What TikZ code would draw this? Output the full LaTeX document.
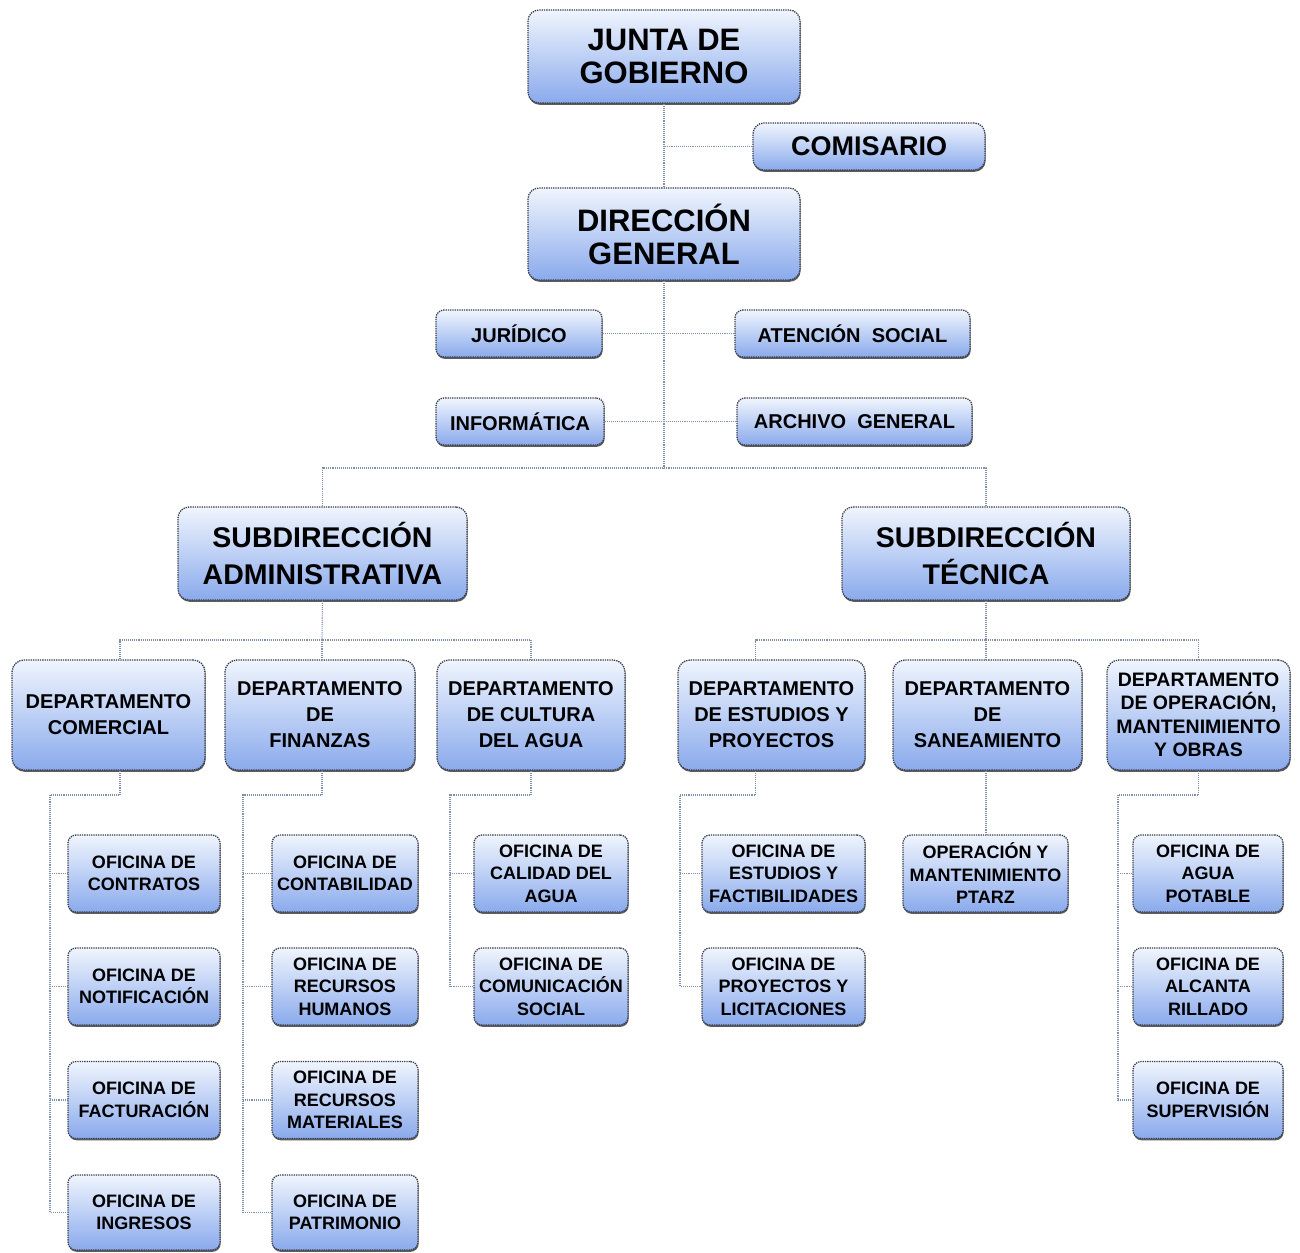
\documentclass[tikz,border=0pt]{standalone}
\usepackage{fontspec}
\setmainfont{Liberation Sans}
\usetikzlibrary{shadows,calc}
\definecolor{boxtop}{RGB}{240,245,253}
\definecolor{boxbot}{RGB}{138,170,236}
\definecolor{boxline}{RGB}{55,60,75}
\definecolor{connc}{RGB}{130,145,170}
\tikzset{
  orgbox/.style 2 args={draw=boxline, densely dotted, line width=1.3pt,
    top color=boxtop, bottom color=boxbot, align=center, inner sep=0pt,
    minimum width=#1pt, minimum height=#2pt,
    drop shadow={shadow xshift=0.6pt, shadow yshift=-1.8pt, fill=black!75, opacity=0.85}},
  bigbox/.style 2 args={orgbox={#1}{#2}, rounded corners=11pt,
    font=\bfseries\fontsize{31}{33}\selectfont},
  midbox/.style 2 args={orgbox={#1}{#2}, rounded corners=8pt,
    font=\bfseries\fontsize{20}{22}\selectfont},
  deptbox/.style 2 args={orgbox={#1}{#2}, rounded corners=12pt,
    font=\bfseries\fontsize{20}{26}\selectfont},
  offbox/.style 2 args={orgbox={#1}{#2}, rounded corners=8pt,
    font=\bfseries\fontsize{18}{22.5}\selectfont},
  conn/.style={draw=connc, densely dotted, line width=1.1pt},
}
\begin{document}
\begin{tikzpicture}[x=1pt,y=-1pt]
\useasboundingbox[fill=white] (0,0) rectangle (1300,1252);

% top level
\node[bigbox={272}{93}] (junta) at (664,56.5) {JUNTA DE\\GOBIERNO};
\node[bigbox={232}{47}, font=\bfseries\fontsize{27}{28}\selectfont] (comisario) at (869,146.5) {COMISARIO};
\node[bigbox={272}{92}] (direccion) at (664,234) {DIRECCIÓN\\GENERAL};

\node[midbox={166}{47}] (juridico) at (519,333.5) {JURÍDICO};
\node[midbox={235}{47}] (atencion) at (852.5,333.5) {ATENCIÓN\ \ SOCIAL};
\node[midbox={168}{47}] (informatica) at (520,421.5) {INFORMÁTICA};
\node[midbox={235}{47}] (archivo) at (854.5,421.5) {ARCHIVO\ \ GENERAL};

\node[bigbox={289}{93}, font=\bfseries\fontsize{28.5}{37}\selectfont] (subadm) at (322.5,553.5) {SUBDIRECCIÓN\\ADMINISTRATIVA};
\node[bigbox={288}{93}, font=\bfseries\fontsize{28.5}{37}\selectfont] (subtec) at (986,553.5) {SUBDIRECCIÓN\\TÉCNICA};

% departments
\node[deptbox={193}{110}] (comercial) at (108.5,715) {DEPARTAMENTO\\COMERCIAL};
\node[deptbox={190}{110}] (finanzas) at (320,715) {DEPARTAMENTO\\DE\\FINANZAS};
\node[deptbox={188}{110}] (cultura) at (531,715) {DEPARTAMENTO\\DE CULTURA\\DEL AGUA};
\node[deptbox={187}{110}] (estudios) at (771.5,715) {DEPARTAMENTO\\DE ESTUDIOS Y\\PROYECTOS};
\node[deptbox={189}{110}] (saneam) at (987.5,715) {DEPARTAMENTO\\DE\\SANEAMIENTO};
\node[deptbox={183}{110}, font=\bfseries\fontsize{19.5}{23.5}\selectfont] (operacion) at (1198.5,715) {DEPARTAMENTO\\DE OPERACIÓN,\\MANTENIMIENTO\\Y OBRAS};

% offices
\node[offbox={152}{77}] (contratos) at (144,873.5) {OFICINA DE\\CONTRATOS};
\node[offbox={152}{77}] (notif) at (144,986.5) {OFICINA DE\\NOTIFICACIÓN};
\node[offbox={152}{77}] (factur) at (144,1100) {OFICINA DE\\FACTURACIÓN};
\node[offbox={152}{75}] (ingresos) at (144,1212.5) {OFICINA DE\\INGRESOS};

\node[offbox={146}{77}] (contab) at (345,873.5) {OFICINA DE\\CONTABILIDAD};
\node[offbox={146}{77}] (rh) at (345,986.5) {OFICINA DE\\RECURSOS\\HUMANOS};
\node[offbox={146}{77}] (rm) at (345,1100) {OFICINA DE\\RECURSOS\\MATERIALES};
\node[offbox={146}{75}] (patrim) at (345,1212.5) {OFICINA DE\\PATRIMONIO};

\node[offbox={154}{77}] (calidad) at (551,873.5) {OFICINA DE\\CALIDAD DEL\\AGUA};
\node[offbox={154}{77}] (comunic) at (551,986.5) {OFICINA DE\\COMUNICACIÓN\\SOCIAL};

\node[offbox={163}{77}] (factib) at (783.5,873.5) {OFICINA DE\\ESTUDIOS Y\\FACTIBILIDADES};
\node[offbox={163}{77}] (licit) at (783.5,986.5) {OFICINA DE\\PROYECTOS Y\\LICITACIONES};

\node[offbox={165}{77}] (ptarz) at (985.5,873.5) {OPERACIÓN Y\\MANTENIMIENTO\\PTARZ};

\node[offbox={150}{77}] (agua) at (1208,873.5) {OFICINA DE\\AGUA\\POTABLE};
\node[offbox={150}{77}] (alcant) at (1208,986.5) {OFICINA DE\\ALCANTA\\RILLADO};
\node[offbox={150}{77}] (superv) at (1208,1100) {OFICINA DE\\SUPERVISIÓN};

% connectors top
\draw[conn] (junta.south) -- (direccion.north);
\draw[conn] (comisario.west) -- (comisario.west -| junta.south);
\coordinate (hub) at (664,468);
\draw[conn] (direccion.south) -- (hub);
\draw[conn] (juridico.east) -- (atencion.west);
\draw[conn] (informatica.east) -- (archivo.west);
\draw[conn] (subadm.north) |- (hub) -| (subtec.north);

% subdirección administrativa
\coordinate (ha) at (322,640);
\draw[conn] (subadm.south) -- (ha);
\draw[conn] ([xshift=11.5pt]comercial.north) |- (ha) -| (cultura.north);
\draw[conn] (ha) -- (finanzas.north -| ha);

% subdirección técnica
\coordinate (ht) at (986,640);
\draw[conn] (subtec.south) -- (ht);
\draw[conn] ([xshift=-16pt]estudios.north) |- (ht) -| (operacion.north);
\draw[conn] (ht) -- (saneam.north -| ht);

% office spines
\coordinate (sc) at (50,795);
\draw[conn] ([xshift=11.5pt]comercial.south) |- (sc) -- (sc |- ingresos.west) -- (ingresos.west);
\foreach \o in {contratos,notif,factur} \draw[conn] (sc |- \o.west) -- (\o.west);

\coordinate (sf) at (243,795);
\draw[conn] ([xshift=2pt]finanzas.south) |- (sf) -- (sf |- patrim.west) -- (patrim.west);
\foreach \o in {contab,rh,rm} \draw[conn] (sf |- \o.west) -- (\o.west);

\coordinate (scu) at (450,795);
\draw[conn] (cultura.south) |- (scu) -- (scu |- comunic.west) -- (comunic.west);
\draw[conn] (scu |- calidad.west) -- (calidad.west);

\coordinate (se) at (680,795);
\draw[conn] ([xshift=-16pt]estudios.south) |- (se) -- (se |- licit.west) -- (licit.west);
\draw[conn] (se |- factib.west) -- (factib.west);

\draw[conn] (saneam.south -| ht) -- (ptarz.north -| ht);

\coordinate (so) at (1118,795);
\draw[conn] (operacion.south) |- (so) -- (so |- superv.west) -- (superv.west);
\foreach \o in {agua,alcant} \draw[conn] (so |- \o.west) -- (\o.west);
\end{tikzpicture}
\end{document}
